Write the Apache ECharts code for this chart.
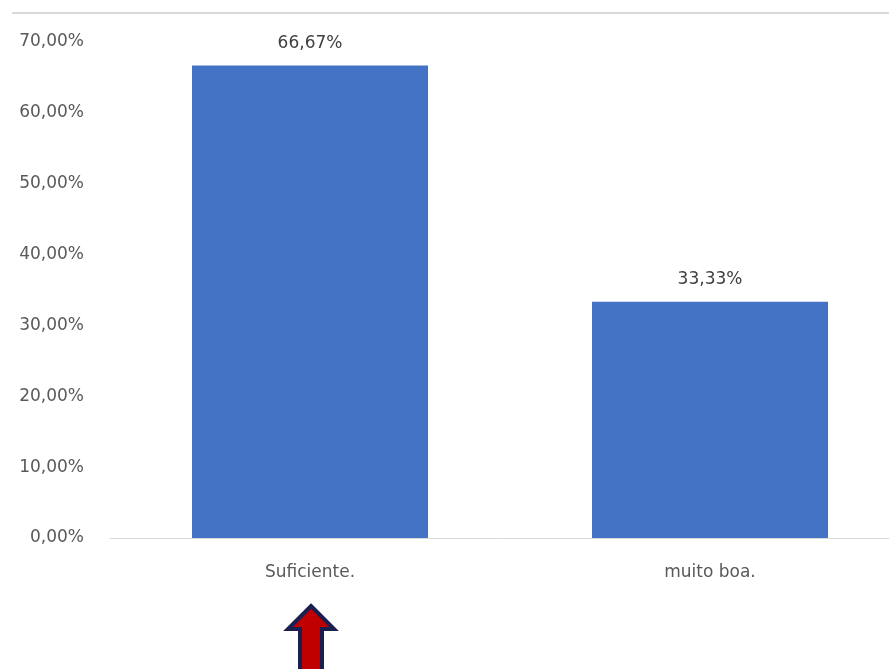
<!DOCTYPE html>
<html>
<head>
<meta charset="utf-8">
<script src="https://cdn.jsdelivr.net/npm/echarts@6/dist/echarts.min.js"></script>
<style>html,body{margin:0;padding:0;background:#fff}#c{width:889px;height:669px}</style>
</head>
<body>
<div id="c"></div>
<script>
const categories = ["Suficiente.", "muito boa."];
const values = [66.67, 33.33];
const yTicks = [0, 10, 20, 30, 40, 50, 60, 70];

const fmt = v => v.toFixed(2).replace('.', ',') + '%';
const FONT = 'DejaVu Sans';
const gridLeft = 110, gridRight = 0, slotPx = 400;
const plotW = 889 - gridLeft - gridRight;
const chart = echarts.init(document.getElementById('c'), null, {renderer: 'canvas'});
chart.setOption({
  animation: false,
  backgroundColor: '#ffffff',
  grid: {left: gridLeft, right: gridRight, top: 42, bottom: 131, containLabel: false},
  xAxis: {
    type: 'value', min: -0.5, max: plotW / slotPx - 0.5,
    splitLine: {show: false},
    axisLine: {show: true, onZero: false, lineStyle: {color: '#d9d9d9', width: 1}},
    axisTick: {show: false},
    axisLabel: {color: '#595959', fontSize: 17, fontFamily: FONT, margin: 26,
      customValues: categories.map((c, i) => i),
      formatter: v => categories[Math.round(v)] || ''}
  },
  yAxis: {
    type: 'value', min: yTicks[0], max: yTicks[yTicks.length - 1], interval: 10,
    axisLine: {show: false}, axisTick: {show: false},
    splitLine: {show: false},
    axisLabel: {color: '#595959', fontSize: 17, fontFamily: FONT, margin: 26, formatter: fmt}
  },
  series: [{
    type: 'bar', data: values.map((v, i) => [i, v]), barWidth: 236,
    itemStyle: {color: '#4472C4'},
    label: {show: true, position: 'top', distance: 14, color: '#404040', fontSize: 17, fontFamily: FONT, formatter: p => fmt(p.value[1])}
  }],
  graphic: [
    {type: 'line', shape: {x1: 12, y1: 13, x2: 889, y2: 13}, style: {stroke: '#d9d9d9', lineWidth: 2}},
    {type: 'polygon', shape: {points: [[311,606],[334,629],[322,629],[322,672],[300,672],[300,629],[288,629]]},
     style: {fill: '#C00000', stroke: '#1b1f4f', lineWidth: 4}}
  ]
});
</script>
</body>
</html>
